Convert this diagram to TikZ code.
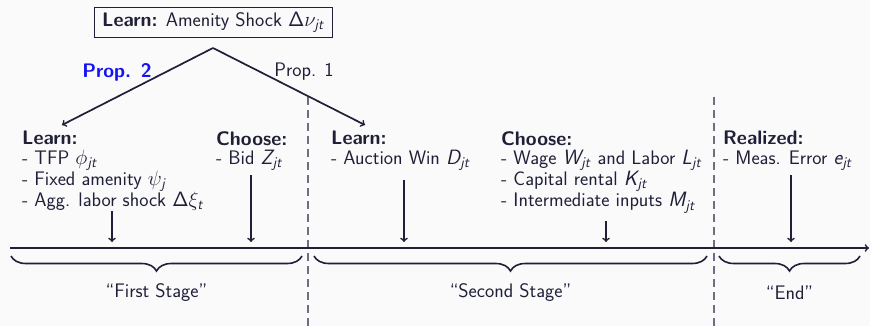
\documentclass[tikz,border=0pt]{standalone}
\usepackage{amsmath}
\usetikzlibrary{decorations.pathreplacing}
% sans italic letters for variables, as in a beamer slide
\DeclareMathAlphabet{\msi}{OT1}{cmss}{m}{sl}
\newcommand{\vv}[2]{\msi{#1}_{\msi{#2}}}
\newcommand{\sDelta}{\mathsf{\Delta}}
\definecolor{ink}{RGB}{31,31,56}
\definecolor{divider}{RGB}{110,110,130}
\definecolor{bg}{RGB}{250,250,250}
\definecolor{propblue}{RGB}{20,20,240}

\begin{document}
\begin{tikzpicture}[x=1pt,y=1pt,
  every node/.style={font=\sffamily\fontsize{19.6}{19.3}\selectfont, text=ink},
  block/.style={anchor=north west, align=left, inner sep=0pt},
  arr/.style={->, line width=1.7pt, draw=ink},
  divline/.style={draw=divider, line width=1.2pt, dash pattern=on 8pt off 5pt},
  bracepath/.style={draw=ink, line width=1.6pt, decorate,
    decoration={brace, mirror, amplitude=15pt}},
  topbox/.style={draw=ink, line width=0.9pt, inner xsep=7.5pt, inner ysep=5pt}]

% canvas
\fill[bg] (0,0) rectangle (870,-326);
\useasboundingbox (0,0) rectangle (870,-326);

% stage dividers
\coordinate (d1t) at (308,-97);  \coordinate (d1b) at (308,-326);
\coordinate (d2t) at (714,-97);  \coordinate (d2b) at (714,-326);
\draw[divline] (d1t) -- (d1b);
\draw[divline] (d2t) -- (d2b);

% amenity shock and the two branches
\node[topbox] (shock) at (213.5,-22.5) {\textbf{Learn:} Amenity Shock $\sDelta\nu_{\msi{jt}}$};
\coordinate (apex) at (213,-48);
\coordinate (leftend) at (62,-125);
\coordinate (rightend) at (365,-125);
\draw[arr] (apex) -- (leftend);
\draw[arr] (apex) -- (rightend);
\node[text=propblue, font=\sffamily\bfseries\fontsize{19.6}{19.3}\selectfont] (p2) at (117,-72) {Prop. 2};
\node (p1) at (304,-72) {Prop. 1};

% timeline
\coordinate (t0) at (10,-248);
\coordinate (t1) at (869,-248);
\draw[arr] (t0) -- (t1);

% event blocks
\node[block] (b1) at (22,-131) {\textbf{Learn:}\\- TFP $\phi_{\msi{jt}}$\\- Fixed amenity $\psi_{\msi{j}}$\\- Agg. labor shock $\sDelta\xi_{\msi{t}}$};
\node[block] (b2) at (216,-131) {\textbf{Choose:}\\- Bid $\vv{Z}{jt}$};
\node[block] (b3) at (331,-131) {\textbf{Learn:}\\- Auction Win $\vv{D}{jt}$};
\node[block] (b4) at (501,-131) {\textbf{Choose:}\\- Wage $\vv{W}{jt}$ and Labor $\vv{L}{jt}$\\- Capital rental $\vv{K}{jt}$\\- Intermediate inputs $\vv{M}{jt}$};
\node[block] (b5) at (723,-131) {\textbf{Realized:}\\- Meas. Error $\vv{e}{jt}$};

% arrows down to the timeline
\coordinate (a1s) at (112,-211); \coordinate (a1e) at (112,-242);
\coordinate (a2s) at (251,-175); \coordinate (a2e) at (251,-242);
\coordinate (a3s) at (404,-180); \coordinate (a3e) at (404,-242);
\coordinate (a4s) at (606,-221); \coordinate (a4e) at (606,-242);
\coordinate (a5s) at (791,-175); \coordinate (a5e) at (791,-242);
\foreach \i in {1,...,5} \draw[arr] (a\i s) -- (a\i e);

% stage braces
\coordinate (s1a) at (11,-256);  \coordinate (s1b) at (302,-256);
\coordinate (s2a) at (314,-256); \coordinate (s2b) at (707,-256);
\coordinate (s3a) at (719,-256); \coordinate (s3b) at (860,-256);
\draw[bracepath] (s1a) -- (s1b);
\draw[bracepath] (s2a) -- (s2b);
\draw[bracepath] (s3a) -- (s3b);
\node (st1) at (156.5,-293) {“First Stage”};
\node (st2) at (510.5,-293) {“Second Stage”};
\node (st3) at (789.5,-293) {“End”};
\end{tikzpicture}
\end{document}
